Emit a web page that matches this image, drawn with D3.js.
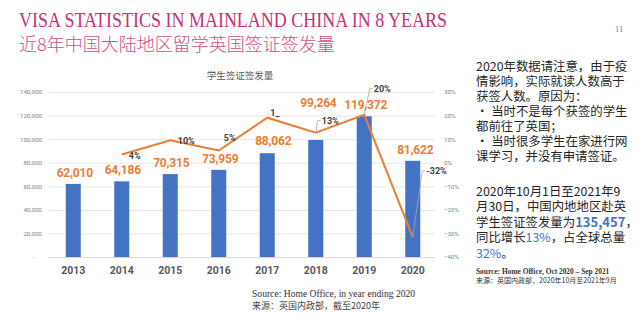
<!DOCTYPE html>
<html><head><meta charset="utf-8">
<script src="https://cdn.jsdelivr.net/npm/d3@7"></script>
<style>
html,body{margin:0;padding:0;background:#fff;}
svg{display:block;}
</style></head>
<body>
<svg id="c" width="644" height="328"></svg>
<script>
// ---- data ----
const years = ["2013","2014","2015","2016","2017","2018","2019","2020"];
const visas = [62010, 64186, 70315, 73959, 88062, 99264, 119372, 81622];
const growth = [null, 0.035, 0.095, 0.052, 0.191, 0.127, 0.203, -0.316];
const growthLabels = ["", "4%", "10%", "5%", "1_", "13%", "20%", "-32%"];
const leftTicks = [0, 20000, 40000, 60000, 80000, 100000, 120000, 140000];
const rightTicks = [-0.4, -0.3, -0.2, -0.1, 0, 0.1, 0.2, 0.3];

// ---- layout (label placement only) ----
const valueLabelShift = {"2013":[1.5,-7],"2014":[1,-7],"2015":[1,-7],"2016":[1.5,-7],"2017":[6,-8],"2018":[2.7,-33],"2019":[1.5,-7.5],"2020":[2.5,-7]};
const pctLabelShift = {"2014":[7,5],"2015":[7.5,4],"2016":[5,-9],"2017":[3,-2],"2018":[6,-9],"2019":[9.5,-23],"2020":[13.5,-63]};
const leaders = {"2018":true,"2019":true,"2020":true};

const svg = d3.select("#c");
svg.append("rect").attr("width",644).attr("height",328).attr("fill","#fff");

// titles
svg.append("text").attr("x",19).attr("y",27)
  .attr("font-family","'Liberation Serif','Times New Roman',serif").attr("font-size",21.5)
  .attr("textLength",428).attr("lengthAdjust","spacingAndGlyphs")
  .attr("fill","#c62f79").text("VISA STATISTICS IN MAINLAND CHINA IN 8 YEARS");
svg.append("text").attr("x",19).attr("y",51)
  .attr("font-family","'Noto Sans CJK SC',sans-serif").attr("font-size",18).attr("font-weight",300)
  .attr("fill","#cf4f88").text("近8年中国大陆地区留学英国签证签发量");
svg.append("text").attr("x",615).attr("y",32)
  .attr("font-family","'Liberation Serif',serif").attr("font-size",8.5)
  .attr("fill","#5f86c4").text("11");

// scales
const x = d3.scaleBand().domain(years).range([49,437]).paddingInner(0.69).paddingOuter(0.345);
const yL = d3.scaleLinear().domain([0,140000]).range([257,92]);
const yR = d3.scaleLinear().domain([-0.4,0.3]).range([257,92]);
const cx = d => x(d) + x.bandwidth()/2;

// chart title
svg.append("text").attr("x",240).attr("y",78.5).attr("text-anchor","middle")
  .attr("font-family","'Noto Sans CJK SC',sans-serif").attr("font-size",9.5)
  .attr("fill","#595959").text("学生签证签发量");

// gridlines
svg.append("g").selectAll("line").data(leftTicks).join("line")
  .attr("x1",49).attr("x2",435)
  .attr("y1",d=>yL(d)+0.5).attr("y2",d=>yL(d)+0.5)
  .attr("stroke",(d)=>d===0?"#d9d9d9":"#e6e6e6").attr("stroke-width",1);

// left axis
const axL = svg.append("g").attr("transform","translate(49,0)")
  .call(d3.axisLeft(yL).tickValues(leftTicks).tickSize(0).tickPadding(7)
    .tickFormat(d => d===0 ? "-" : d3.format(",")(d)));
axL.select(".domain").remove();
axL.selectAll("text").attr("font-family","Roboto,sans-serif").attr("font-size",6.2).attr("fill","#808080");
axL.selectAll(".tick").filter(d=>d===0).select("text").attr("x",-14);

// right axis
const axR = svg.append("g").attr("transform","translate(437,0)")
  .call(d3.axisRight(yR).tickValues(rightTicks).tickSize(0).tickPadding(7)
    .tickFormat(d3.format(".0%")));
axR.select(".domain").remove();
axR.selectAll("text").attr("font-family","Roboto,sans-serif").attr("font-size",6.2).attr("fill","#808080");

// bottom axis (years)
const axB = svg.append("g").attr("transform","translate(0,257)")
  .call(d3.axisBottom(x).tickSize(0).tickPadding(10));
axB.select(".domain").remove();
axB.selectAll("text").attr("font-family","Roboto,sans-serif").attr("font-weight","bold")
  .attr("font-size",10.5).attr("fill","#595959");

// bars
svg.append("g").selectAll("rect").data(years).join("rect")
  .attr("x",d=>x(d)).attr("width",x.bandwidth())
  .attr("y",(d,i)=>yL(visas[i])).attr("height",(d,i)=>yL(0)-yL(visas[i]))
  .attr("fill","#4472c4");

// growth line
const pts = years.map((d,i)=>({year:d,g:growth[i],lab:growthLabels[i]})).filter(p=>p.g!==null);
svg.append("path").datum(pts)
  .attr("d", d3.line().x(p=>cx(p.year)).y(p=>yR(p.g)))
  .attr("fill","none").attr("stroke","#ed7d31").attr("stroke-width",2);

// leader lines
pts.filter(p=>leaders[p.year]).forEach(p=>{
  const px = cx(p.year), py = yR(p.g);
  const s = pctLabelShift[p.year];
  const lx = px + s[0], ly = py + s[1] - 3.3;
  svg.append("polyline")
    .attr("points",[[px,py],[lx-4,ly],[lx-1,ly]].map(a=>a.join(",")).join(" "))
    .attr("fill","none").attr("stroke","#a6a6a6").attr("stroke-width",0.8);
});

// percent labels
svg.append("g").selectAll("text").data(pts).join("text")
  .attr("x",p=>cx(p.year)+pctLabelShift[p.year][0])
  .attr("y",p=>yR(p.g)+pctLabelShift[p.year][1])
  .attr("font-family","Roboto,sans-serif").attr("font-weight","bold").attr("font-size",9)
  .attr("fill","#404040").text(p=>p.lab);

// value labels
svg.append("g").selectAll("text").data(years).join("text")
  .attr("x",d=>cx(d)+valueLabelShift[d][0])
  .attr("y",(d,i)=>yL(visas[i])+valueLabelShift[d][1])
  .attr("text-anchor","middle")
  .attr("font-family","Roboto,sans-serif").attr("font-weight","bold").attr("font-size",12)
  .attr("letter-spacing",-0.2)
  .attr("fill","#ed7d31").text((d,i)=>d3.format(",")(visas[i]));

// chart source
svg.append("text").attr("x",252).attr("y",296.5)
  .attr("font-family","'Liberation Serif','Times New Roman',serif").attr("font-size",9.6)
  .attr("fill","#333").text("Source: Home Office, in year ending 2020");
svg.append("text").attr("x",252).attr("y",308.5)
  .attr("font-family","'Noto Sans CJK SC',sans-serif").attr("font-size",9)
  .attr("fill","#444").text("来源：英国内政部，截至2020年");

// right text block
const cjk = "'Noto Sans CJK SC',sans-serif";
const para1 = ["2020年数据请注意，由于疫","情影响，实际就读人数高于","获签人数。原因为：","• 当时不是每个获签的学生","都前往了英国；","• 当时很多学生在家进行网","课学习，并没有申请签证。"];
svg.append("g").selectAll("text").data(para1).join("text")
  .attr("x",476).attr("y",(d,i)=>71+i*15)
  .attr("font-family",cjk).attr("font-size",12.4).attr("fill","#262626").text(d=>d);

const para2 = [
  [["2020年10月1日至2021年9",0]],
  [["月30日，中国内地地区赴英",0]],
  [["学生签证签发量为",0],["135,457",2],["，",0]],
  [["同比增长",0],["13%",1],["，占全球总量",0]],
  [["32%",1],["。",0]]
];
para2.forEach((line,i)=>{
  const t = svg.append("text").attr("x",476).attr("y",196+i*15.4)
    .attr("font-family",cjk).attr("font-size",12.4).attr("fill","#262626");
  line.forEach(([s,k])=>{
    const ts = t.append("tspan").text(s);
    if(k>0) ts.attr("fill","#4472c4");
    if(k===2) ts.attr("font-weight","bold").attr("font-size",13);
  });
});

svg.append("text").attr("x",476).attr("y",273.5)
  .attr("font-family","'Liberation Serif',serif").attr("font-weight","bold").attr("font-size",7.4)
  .attr("fill","#333").text("Source: Home Office, Oct 2020 – Sep 2021");
svg.append("text").attr("x",476).attr("y",283)
  .attr("font-family",cjk).attr("font-size",7).attr("fill","#333")
  .text("来源：英国内政部，2020年10月至2021年9月");
</script>
</body></html>
